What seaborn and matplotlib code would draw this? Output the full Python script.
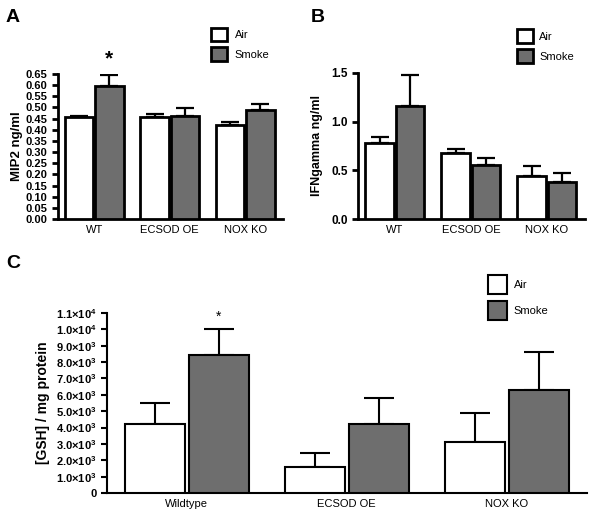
import matplotlib
matplotlib.use("Agg")
import matplotlib.pyplot as plt
from matplotlib.patches import Patch
import numpy as np
import pandas as pd
import seaborn as sns

# data
groups_ab = ["WT", "ECSOD OE", "NOX KO"]
groups_c = ["Wildtype", "ECSOD OE", "NOX KO"]
conditions = ["Air", "Smoke"]

mip2_air = [0.455, 0.455, 0.420]
mip2_smoke = [0.595, 0.460, 0.487]
mip2_air_sem = [0.006, 0.015, 0.015]
mip2_smoke_sem = [0.050, 0.035, 0.028]

ifn_air = [0.78, 0.68, 0.44]
ifn_smoke = [1.16, 0.55, 0.38]
ifn_air_sem = [0.06, 0.04, 0.10]
ifn_smoke_sem = [0.32, 0.08, 0.09]

gsh_air = [4200, 1600, 3120]
gsh_smoke = [8450, 4200, 6300]
gsh_air_sem = [1280, 830, 1750]
gsh_smoke_sem = [1570, 1630, 2340]

SMOKE = "#6e6e6e"

sns.set_theme(style="ticks")
plt.rcParams['font.family'] = ['Liberation Sans', 'DejaVu Sans']
plt.rcParams['text.color'] = 'black'
plt.rcParams['axes.labelcolor'] = 'black'
plt.rcParams['xtick.color'] = 'black'
plt.rcParams['ytick.color'] = 'black'
plt.rcParams['axes.edgecolor'] = 'black'
plt.rcParams['mathtext.fontset'] = 'custom'
plt.rcParams['mathtext.bf'] = 'Liberation Sans:bold'
plt.rcParams['mathtext.rm'] = 'Liberation Sans:bold'
plt.rcParams['mathtext.default'] = 'bf'


def make_df(groups, air, smoke):
    return pd.DataFrame({
        "group": groups * 2,
        "cond": ["Air"] * len(groups) + ["Smoke"] * len(groups),
        "value": list(air) + list(smoke),
    })


def bar_panel(ax, groups, air, smoke, air_sem, smoke_sem, lw, cap, elw, ysize):
    df = make_df(groups, air, smoke)
    sns.barplot(data=df, x="group", y="value", hue="cond", hue_order=conditions,
                palette={"Air": "white", "Smoke": SMOKE}, edgecolor="black",
                linewidth=lw, errorbar=None, width=0.8, gap=0.06, ax=ax, legend=False,
                zorder=3)
    tops = []
    for cont, vals, sems in zip(ax.containers, [air, smoke], [air_sem, smoke_sem]):
        xs = [p.get_x() + p.get_width() / 2 for p in cont.patches]
        ax.errorbar(xs, vals, yerr=[np.zeros(len(vals)), sems], fmt="none",
                    ecolor="black", elinewidth=elw, capsize=cap, capthick=elw, zorder=2)
        tops.append((xs, np.array(vals) + np.array(sems)))
    sns.despine(ax=ax)
    ax.set_xlabel("")
    ax.tick_params(axis="x", length=0, labelsize=8, pad=4)
    ax.tick_params(axis="y", direction="out", length=4, width=lw, labelsize=ysize)
    ax.spines['left'].set_linewidth(lw)
    ax.spines['bottom'].set_linewidth(lw)
    return tops


fig = plt.figure(figsize=(6.0, 5.13), dpi=100)

# panel A
axA = fig.add_axes([0.0967, 0.573, 0.375, 0.283])
topsA = bar_panel(axA, groups_ab, mip2_air, mip2_smoke, mip2_air_sem, mip2_smoke_sem, 2.0, 6.5, 1.6, 8)
axA.set_xlim(-0.48, 2.5)
axA.set_ylim(0, 0.65)
axA.set_yticks(np.arange(0, 0.651, 0.05))
axA.set_yticklabels([f"{v:.2f}" for v in np.arange(0, 0.651, 0.05)], fontweight="bold")
axA.set_ylabel("MIP2 ng/ml", fontsize=9.5, fontweight="bold", labelpad=2)
axA.text(topsA[1][0][0], topsA[1][1][0] + 0.072, "*", ha="center", va="center",
         fontsize=15, fontweight="bold")

# panel B
axB = fig.add_axes([0.597, 0.573, 0.378, 0.285])
bar_panel(axB, groups_ab, ifn_air, ifn_smoke, ifn_air_sem, ifn_smoke_sem, 2.0, 6.5, 1.6, 8.5)
axB.set_xlim(-0.48, 2.5)
axB.set_ylim(0, 1.5)
axB.set_yticks([0.0, 0.5, 1.0, 1.5])
axB.set_yticklabels(["0.0", "0.5", "1.0", "1.5"], fontweight="bold")
axB.set_ylabel("IFNgamma ng/ml", fontsize=9, fontweight="bold", labelpad=6)

# panel C
axC = fig.add_axes([0.178, 0.039, 0.80, 0.351])
topsC = bar_panel(axC, groups_c, gsh_air, gsh_smoke, gsh_air_sem, gsh_smoke_sem, 1.5, 11, 1.5, 8)
axC.set_xlim(-0.5, 2.5)
axC.set_ylim(0, 11000)
cticks = np.arange(0, 11001, 1000)
clabels = ["0"]
for v in cticks[1:]:
    e = int(np.floor(np.log10(v)))
    clabels.append(f"{v / 10 ** e:.1f}×10$^{{{e}}}$")
axC.set_yticks(cticks)
axC.set_yticklabels(clabels, fontweight="bold")
axC.set_ylabel("[GSH] / mg protein", fontsize=10, fontweight="bold", labelpad=4)
axC.text(topsC[1][0][0], topsC[1][1][0] + 750, "*", ha="center", va="center",
         fontsize=10)

# legends
def add_legend(x, y, fs, hl, hh, ls, pad, lw):
    handles = [Patch(facecolor="white", edgecolor="black", linewidth=lw, label="Air"),
               Patch(facecolor=SMOKE, edgecolor="black", linewidth=lw, label="Smoke")]
    fig.legend(handles=handles, loc="upper left", bbox_to_anchor=(x, y),
               bbox_transform=fig.transFigure, frameon=False, fontsize=fs,
               handlelength=hl, handleheight=hh, labelspacing=ls,
               handletextpad=pad, borderpad=0, borderaxespad=0)

add_legend(211 / 600, 1 - 28 / 513, 8, 1.45, 1.45, 0.55, 0.7, 2.0)
add_legend(517 / 600, 1 - 29 / 513, 8, 1.4, 1.6, 0.5, 0.6, 2.0)
add_legend(488 / 600, 1 - 275 / 513, 8, 1.7, 2.2, 0.7, 0.6, 1.5)

# panel letters
fig.text(13 / 600, 1 - 17 / 513, "A", fontsize=14, fontweight="bold", ha="center", va="center")
fig.text(318 / 600, 1 - 17 / 513, "B", fontsize=14, fontweight="bold", ha="center", va="center")
fig.text(13 / 600, 1 - 263 / 513, "C", fontsize=14, fontweight="bold", ha="center", va="center")

fig.savefig("out.png", dpi=100, facecolor="white")
